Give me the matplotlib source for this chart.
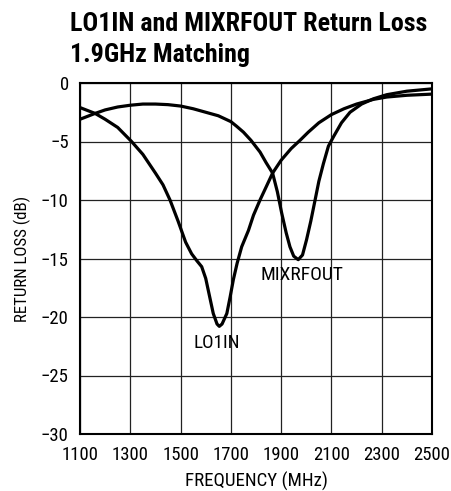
import matplotlib
matplotlib.use("Agg")
import matplotlib.pyplot as plt
from matplotlib import font_manager

# return loss readings, frequency in MHz, loss in dB
lo1in_freq = [1100, 1160, 1200, 1250, 1305, 1350, 1400, 1430, 1458, 1490,
              1520, 1544, 1565, 1584, 1600, 1615, 1630, 1645, 1654, 1665,
              1684, 1697, 1710, 1725, 1743, 1770, 1790, 1816, 1840, 1866,
              1900, 1940, 1975, 2008, 2050, 2100, 2150, 2200, 2267, 2320,
              2400, 2500]
lo1in_db = [-2.1, -2.6, -3.1, -3.8, -5.0, -6.1, -7.7, -8.7, -10.0, -11.8,
            -13.6, -14.6, -15.2, -15.7, -16.7, -18.2, -19.7, -20.6, -20.8, -20.6,
            -19.7, -18.3, -16.8, -15.4, -14.0, -12.6, -11.3, -10.0, -8.9, -7.7,
            -6.6, -5.6, -4.9, -4.2, -3.4, -2.7, -2.2, -1.8, -1.4, -1.2,
            -1.05, -0.95]

mixrfout_freq = [1100, 1160, 1200, 1250, 1300, 1350, 1400, 1450, 1500, 1550,
                 1600, 1650, 1700, 1723, 1750, 1780, 1816, 1840, 1866, 1885,
                 1902, 1920, 1935, 1950, 1968, 1985, 2001, 2018, 2035, 2050,
                 2068, 2088, 2108, 2140, 2174, 2220, 2267, 2320, 2400, 2500]
mixrfout_db = [-3.1, -2.6, -2.3, -2.05, -1.9, -1.8, -1.8, -1.85, -1.97, -2.2,
               -2.5, -2.8, -3.3, -3.7, -4.2, -4.9, -5.9, -6.8, -7.7, -9.3,
               -11.1, -12.8, -14.0, -14.8, -15.1, -14.7, -13.4, -11.8, -10.0, -8.4,
               -6.9, -5.4, -4.6, -3.4, -2.5, -1.8, -1.35, -1.0, -0.7, -0.5]

x_ticks = [1100, 1300, 1500, 1700, 1900, 2100, 2300, 2500]
y_ticks = [0, -5, -10, -15, -20, -25, -30]

# narrow sans for the whole chart, first one that is installed
names = {f.name for f in font_manager.fontManager.ttflist}
for fam in ["Nimbus Sans Narrow", "Liberation Sans Narrow", "Roboto Condensed",
            "Archivo Narrow", "Arial Narrow", "Barlow Semi Condensed", "Liberation Sans"]:
    if fam in names:
        narrow = fam
        break
plt.rcParams["font.family"] = [narrow, "DejaVu Sans"]

fig = plt.figure(figsize=(4.52, 4.91), dpi=100)
ax = fig.add_axes([80 / 452, 1 - 434 / 491, 352 / 452, 351 / 491])

ax.plot(lo1in_freq, lo1in_db, color="black", lw=2.3)
ax.plot(mixrfout_freq, mixrfout_db, color="black", lw=2.3)

ax.set_xlim(1100, 2500)
ax.set_ylim(-30, 0)
ax.set_xticks(x_ticks)
ax.set_yticks(y_ticks)
ax.set_xticklabels([str(t) for t in x_ticks])
ax.set_yticklabels(["0" if t == 0 else "\u2212%d" % -t for t in y_ticks])
ax.tick_params(length=0, labelsize=13.5)
ax.tick_params(axis="x", pad=8.5)
ax.tick_params(axis="y", pad=8)
ax.grid(True, color="#222222", lw=0.9)
ax.set_axisbelow(True)
for s in ax.spines.values():
    s.set_linewidth(1.5)

ax.set_xlabel("FREQUENCY (MHz)", fontsize=13.6, labelpad=6)
ax.set_ylabel("RETURN LOSS (dB)", fontsize=12.2, labelpad=7)

ax.text(1981, -16.4, "MIXRFOUT", fontsize=14, ha="center", va="center")
ax.text(1643, -22.2, "LO1IN", fontsize=13.8, ha="center", va="center")

fig.text(70 / 452, 1 - 31 / 491, "LO1IN and MIXRFOUT Return Loss",
         fontsize=18.7, fontweight="bold", ha="left", va="baseline")
fig.text(70 / 452, 1 - 62 / 491, "1.9GHz Matching",
         fontsize=18.7, fontweight="bold", ha="left", va="baseline")

fig.savefig("out.png", dpi=100)
